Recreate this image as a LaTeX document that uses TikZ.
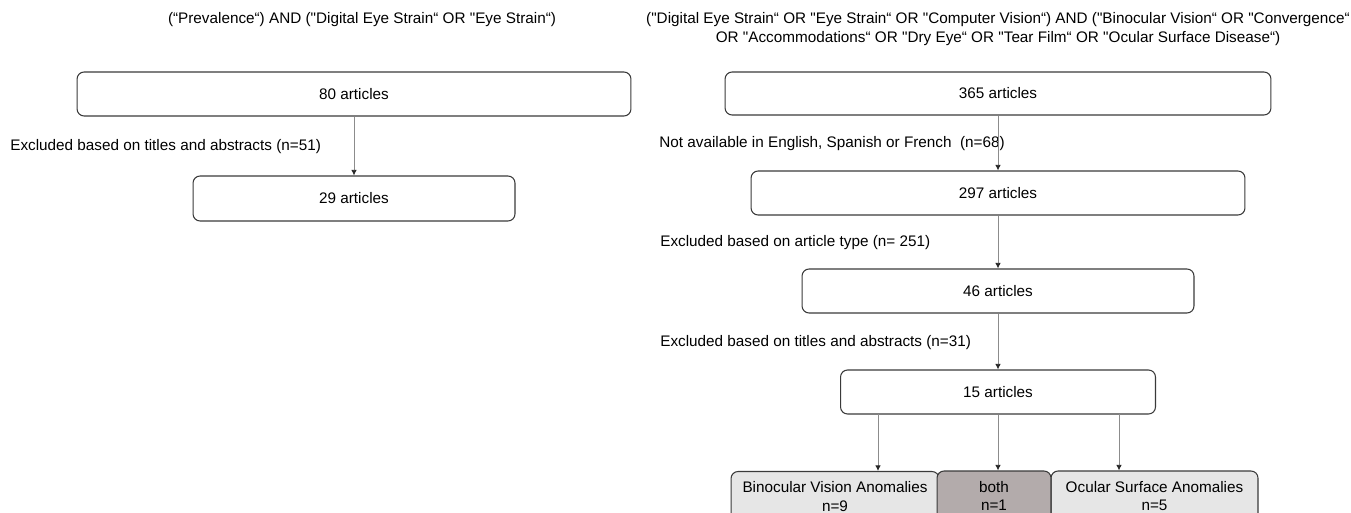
\documentclass[tikz,border=0pt]{standalone}
\usepackage{fontspec}
\setmainfont{Liberation Sans}[Ligatures=TeXOff]
\usetikzlibrary{arrows.meta, positioning}
\usepackage{xcolor}

\definecolor{boxline}{HTML}{3A3A3A}
\definecolor{arrline}{HTML}{8C8C8C}
\definecolor{lightfill}{HTML}{E6E6E6}
\definecolor{bothfill}{HTML}{B3ABAB}

\begin{document}
\begin{tikzpicture}[auto, >={Latex[length=3.2pt,width=3.2pt,color=black!85]}, x=0.02cm, y=-0.02cm]
				\tikzstyle{txt} = [font=\fontsize{8.7}{10.6}\selectfont]
				\tikzstyle{box} = [txt, draw=boxline, line width=0.6pt, rounded corners=4pt, inner sep=0pt]
				\tikzstyle{grp} = [box, fill=lightfill, align=center]
				\tikzstyle{invis} = [txt, draw=none, inner sep=0pt]
				\tikzstyle{link} = [->, draw=arrline, line width=0.5pt]
				
				\clip (0,0) rectangle (1351,513);
				
				% left search
				\node[invis, align=center]	at (362, 20)	(qa)	{(“Prevalence“) AND ("Digital Eye Strain“ OR "Eye Strain“)};
				\node[box, minimum width=11.08cm, minimum height=0.88cm]	at (354, 94)	(a80)	{80 articles};
				\node[box, minimum width=6.44cm, minimum height=0.9cm]	at (354, 198.5)	(a29)	{29 articles};
				\node[invis, anchor=west]	at (10, 147)	(ea)	{Excluded based on titles and abstracts (n=51)};
				
				% right search
				\node[invis, align=center]	at (998, 29)	(qb)	{("Digital Eye Strain“ OR "Eye Strain“ OR "Computer Vision“) AND ("Binocular Vision“ OR "Convergence“\\ OR "Accommodations“ OR "Dry Eye“ OR "Tear Film“ OR "Ocular Surface Disease“)};
				\node[box, minimum width=10.92cm, minimum height=0.86cm]	at (998, 93.5)	(b365)	{365 articles};
				\node[box, minimum width=9.88cm, minimum height=0.88cm]	at (998, 193)	(b297)	{297 articles};
				\node[box, minimum width=7.84cm, minimum height=0.88cm]	at (998, 291)	(b46)	{46 articles};
				\node[box, minimum width=6.30cm, minimum height=0.88cm]	at (998, 392)	(b15)	{15 articles};
				\node[invis, anchor=west]	at (659, 144)	(eb1)	{Not available in English, Spanish or French~~(n=68)};
				\node[invis, anchor=west]	at (660, 243)	(eb2)	{Excluded based on article type (n= 251)};
				\node[invis, anchor=west]	at (660, 343)	(eb3)	{Excluded based on titles and abstracts (n=31)};
				
				% groups
				\node[grp, minimum width=4.16cm, minimum height=1cm]	at (835, 496.5)	(bin)	{Binocular Vision Anomalies\\n=9};
				\node[grp, minimum width=4.14cm, minimum height=1cm]	at (1154.5, 496)	(ocu)	{Ocular Surface Anomalies\\n=5};
				\node[grp, fill=bothfill, minimum width=2.28cm, minimum height=1cm]	at (994, 496)	(both)	{both\\n=1};
				
				\coordinate (s1) at (878, 414);
				\coordinate (s2) at (1119, 414);
				
				\draw[link] (a80) -- (a29);
				\draw[link] (b365) -- (b297);
				\draw[link] (b297) -- (b46);
				\draw[link] (b46) -- (b15);
				\draw[link] (s1) -- (s1 |- bin.north);
				\draw[link] (b15) -- (b15 |- both.north);
				\draw[link] (s2) -- (s2 |- ocu.north);
			\end{tikzpicture}
\end{document}
